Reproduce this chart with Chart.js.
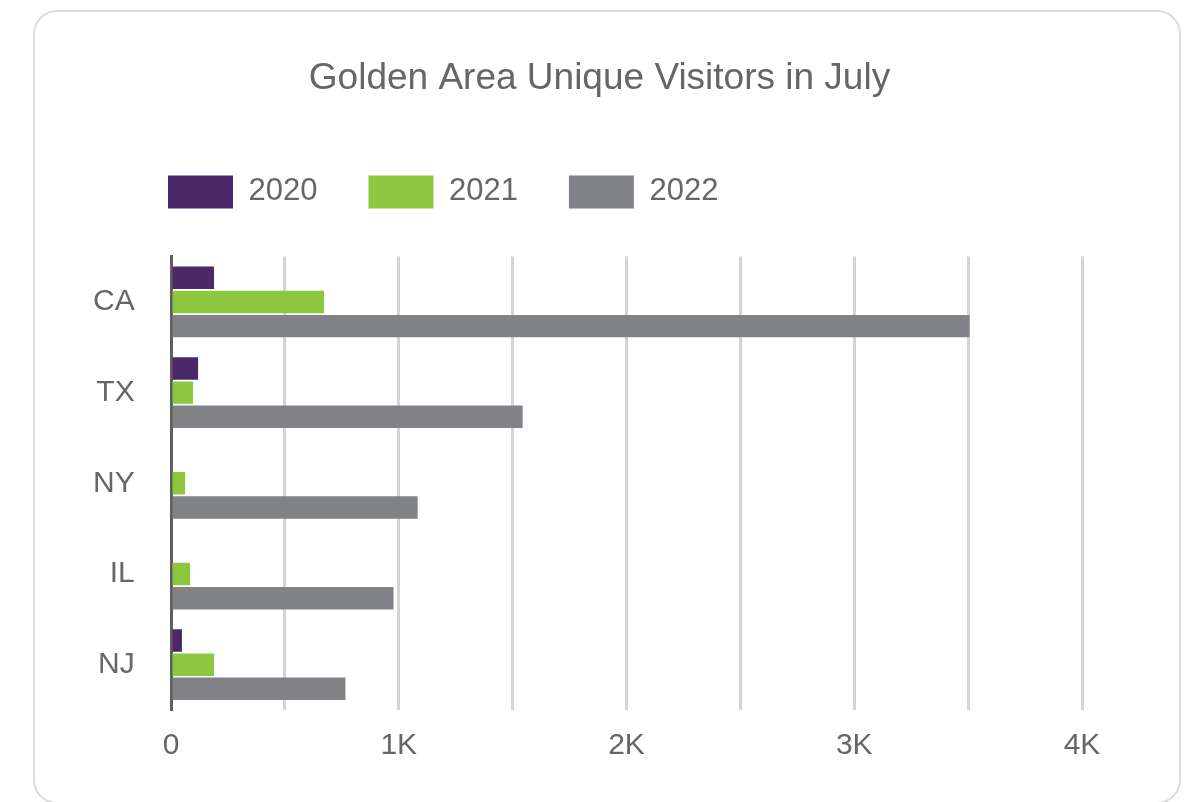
<!DOCTYPE html>
<html>
<head>
<meta charset="utf-8">
<script src="https://cdn.jsdelivr.net/npm/chart.js@4/dist/chart.umd.min.js"></script>
<style>
  html, body { margin: 0; padding: 0; background: #ffffff; width: 1199px; height: 802px; overflow: hidden; }
  #card { position: absolute; left: 33px; top: 10px; width: 1144px; height: 790px; border: 2px solid #dcdcdc; border-radius: 24px; background: #ffffff; }
  #c { position: absolute; left: 0; top: 0; }
</style>
</head>
<body>
<div id="card"></div>
<canvas id="c" width="1199" height="802"></canvas>
<script>
const categories = ['CA', 'TX', 'NY', 'IL', 'NJ'];
const seriesNames = ['2020', '2021', '2022'];
const values2020 = [189, 119, 0, 0, 48];
const values2021 = [672, 97, 62, 84, 189];
const values2022 = [3506, 1544, 1083, 977, 766];
const tickValues = [0, 1000, 2000, 3000, 4000];
const tickLabels = ['0', '1K', '2K', '3K', '4K'];
const titleText = 'Golden Area Unique Visitors in July';

const colors = ['#4b286a', '#8dc63f', '#818285'];
const textColor = '#666666';
const FONT = "'Liberation Sans', Arial, Helvetica, sans-serif";

new Chart(document.getElementById('c'), {
  type: 'bar',
  data: {
    labels: categories,
    datasets: [values2020, values2021, values2022].map((vals, i) => ({
      label: seriesNames[i],
      data: vals,
      backgroundColor: colors[i],
      borderWidth: 0,
      categoryPercentage: 0.8,
      barPercentage: 0.93
    }))
  },
  options: {
    indexAxis: 'y',
    responsive: false,
    animation: false,
    devicePixelRatio: 1,
    layout: { padding: { left: 117, right: 117, top: 0, bottom: 20 } },
    font: { family: FONT },
    plugins: {
      title: {
        display: true,
        text: titleText,
        color: textColor,
        font: { family: FONT, size: 37, weight: 'normal' },
        padding: { top: 57, bottom: 23 }
      },
      subtitle: {
        display: true,
        text: '',
        weight: 500,
        font: { family: FONT, size: 1 },
        padding: { top: 0, bottom: 37 }
      },
      legend: {
        display: true,
        position: 'top',
        align: 'start',
        labels: {
          boxWidth: 65,
          boxHeight: 33,
          padding: 51,
          color: textColor,
          font: { family: FONT, size: 31 }
        }
      },
      tooltip: { enabled: false }
    },
    scales: {
      x: {
        min: 0,
        max: 4000,
        ticks: {
          stepSize: 500,
          color: textColor,
          padding: 18,
          maxRotation: 0,
          autoSkip: false,
          font: { family: FONT, size: 30 },
          callback: (v) => {
            const idx = tickValues.indexOf(v);
            return idx >= 0 ? tickLabels[idx] : '';
          }
        },
        grid: {
          drawTicks: false,
          lineWidth: 3,
          color: (ctx) => (ctx.tick && ctx.tick.value === 0 ? 'rgba(0,0,0,0)' : '#d4d4d4')
        },
        border: { display: false }
      },
      y: {
        ticks: {
          color: textColor,
          mirror: true,
          crossAlign: 'far',
          padding: -78,
          font: { family: FONT, size: 30 }
        },
        grid: { display: false, drawTicks: false },
        border: { display: true, color: '#5f5f5f', width: 3 },
        afterFit: (scale) => { scale.width = 54; }
      }
    }
  }
});
</script>
</body>
</html>
